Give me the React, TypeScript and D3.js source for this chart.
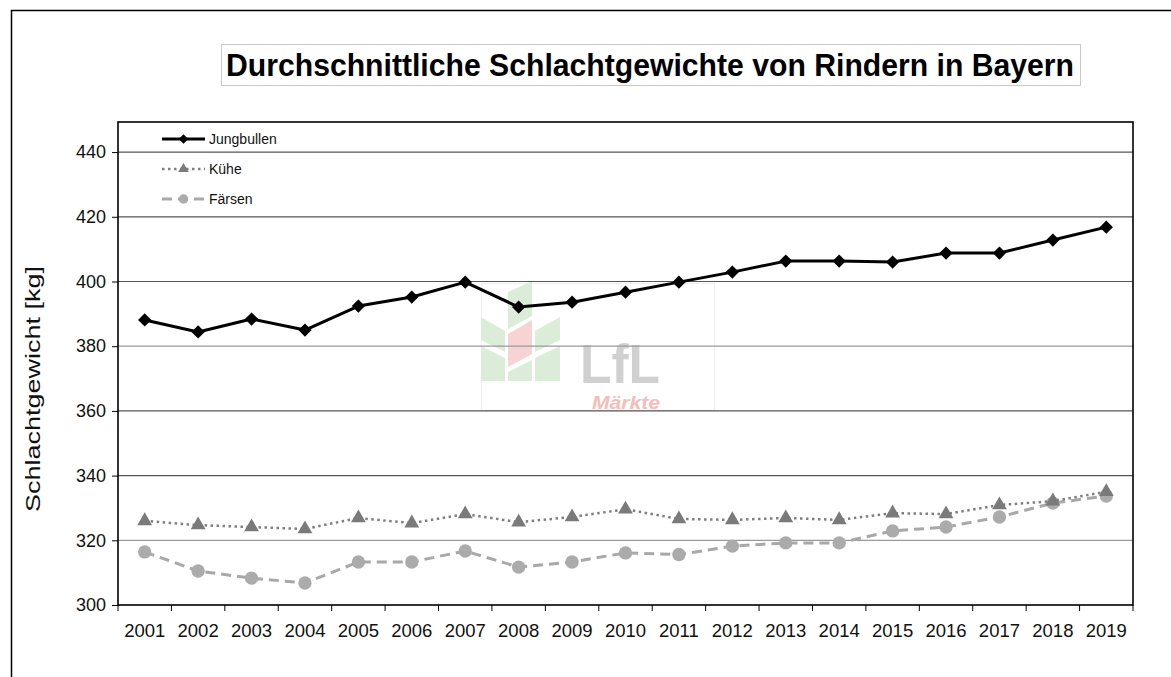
import React, { useEffect, useRef } from 'react';
import * as d3 from 'd3';

// Jahre (x-Achse)
const years = ["2001", "2002", "2003", "2004", "2005", "2006", "2007", "2008", "2009", "2010",
  "2011", "2012", "2013", "2014", "2015", "2016", "2017", "2018", "2019"];

// Schlachtgewichte in kg
const jungbullen = [388.1, 384.4, 388.4, 385.0, 392.4, 395.2, 399.8, 392.1, 393.6, 396.7,
  399.8, 402.9, 406.3, 406.3, 406.0, 408.8, 408.8, 412.8, 416.8];
const kuehe = [326.0, 324.7, 324.1, 323.5, 326.9, 325.3, 328.1, 325.6, 327.2, 329.6,
  326.6, 326.3, 326.9, 326.3, 328.4, 328.1, 330.9, 332.1, 335.0];
const faersen = [316.4, 310.5, 308.3, 306.8, 313.3, 313.3, 316.7, 311.7, 313.3, 316.1,
  315.6, 318.2, 319.2, 319.2, 322.9, 324.1, 327.2, 331.5, 333.7];

const yTicks = [300, 320, 340, 360, 380, 400, 420, 440];
const seriesNames = ["Jungbullen", "Kühe", "Färsen"];

export default function App() {
  const ref = useRef<SVGSVGElement | null>(null);

  useEffect(() => {
    document.body.style.margin = "0";
    const svg = d3.select(ref.current);
    svg.selectAll("*").remove();

    const W = 1171, H = 677;
    const margin = { top: 122, right: W - 1133, bottom: H - 605, left: 118 };
    const font = "Liberation Sans, Arial, sans-serif";

    // outer frame
    svg.append("rect")
      .attr("x", 11.5).attr("y", 10.5)
      .attr("width", W + 20).attr("height", H + 20)
      .attr("fill", "#fff").attr("stroke", "#000").attr("stroke-width", 1.5);

    // title box
    svg.append("rect")
      .attr("x", 221.5).attr("y", 44.5).attr("width", 859).attr("height", 41)
      .attr("fill", "#fff").attr("stroke", "#c8c8c8");
    svg.append("text")
      .attr("x", 226).attr("y", 76)
      .attr("font-family", font).attr("font-weight", "bold").attr("font-size", 31)
      .attr("textLength", 848).attr("lengthAdjust", "spacingAndGlyphs")
      .text("Durchschnittliche Schlachtgewichte von Rindern in Bayern");

    const x = d3.scaleBand()
      .domain(years)
      .range([margin.left, W - margin.right]);
    const y = d3.scaleLinear()
      .domain([300, 449.3])
      .range([H - margin.bottom, margin.top]);
    const cx = (d: string) => (x(d) as number) + x.bandwidth() / 2;

    // watermark
    const wm = svg.append("g").attr("opacity", 0.9);
    wm.append("rect").attr("x", 481.5).attr("y", 283.5).attr("width", 233).attr("height", 127)
      .attr("fill", "none").attr("stroke", "#eeeeee");
    const green = "#d8ecd4", pink = "#f7cfcf";
    const leaves: [number, number][][] = [
      [[508, 292], [532, 281], [532, 316], [508, 329]],
      [[481, 317], [505, 331], [505, 352], [481, 340]],
      [[481, 346], [505, 358], [505, 381], [481, 381]],
      [[535, 331], [560, 317], [560, 340], [535, 352]],
      [[535, 358], [560, 346], [560, 381], [535, 381]],
      [[508, 372], [532, 360], [532, 381], [508, 381]]
    ];
    leaves.forEach(p => wm.append("polygon").attr("points", p.join(" ")).attr("fill", green));
    wm.append("polygon").attr("points", [[508, 334], [532, 320], [532, 354], [508, 367]].join(" ")).attr("fill", pink);
    wm.append("text").attr("x", 580).attr("y", 383)
      .attr("font-family", font).attr("font-weight", "bold").attr("font-size", 56)
      .attr("textLength", 80).attr("lengthAdjust", "spacingAndGlyphs")
      .attr("fill", "#cccccc").text("LfL");
    wm.append("text").attr("x", 592).attr("y", 409)
      .attr("font-family", font).attr("font-weight", "bold").attr("font-style", "italic")
      .attr("font-size", 18).attr("textLength", 68).attr("lengthAdjust", "spacingAndGlyphs")
      .attr("fill", "#f5b5b5").text("Märkte");

    // gridlines
    svg.append("g")
      .selectAll("line")
      .data(yTicks.filter(t => t > 300))
      .enter()
      .append("line")
      .attr("x1", margin.left).attr("x2", W - margin.right)
      .attr("y1", d => y(d)).attr("y2", d => y(d))
      .attr("stroke", d => (d === 380 || d === 320) ? "#9a9a9a" : "#555")
      .attr("stroke-width", 1.2);

    // plot frame
    svg.append("rect")
      .attr("x", margin.left).attr("y", margin.top)
      .attr("width", W - margin.right - margin.left)
      .attr("height", H - margin.bottom - margin.top)
      .attr("fill", "none").attr("stroke", "#000").attr("stroke-width", 1.6);

    // y axis
    const yAxis = svg.append("g")
      .attr("transform", `translate(${margin.left},0)`)
      .call(d3.axisLeft(y).tickValues(yTicks).tickSize(6).tickPadding(6).tickFormat(d3.format("d")));
    yAxis.select(".domain").remove();
    yAxis.selectAll("line").attr("stroke", "#000");
    yAxis.selectAll("text").attr("font-family", font).attr("font-size", 18).attr("fill", "#111");

    // x axis ticks at band boundaries
    const bounds = years.map(d => x(d) as number).concat([W - margin.right]);
    svg.append("g")
      .selectAll("line")
      .data(bounds)
      .enter()
      .append("line")
      .attr("x1", d => d).attr("x2", d => d)
      .attr("y1", H - margin.bottom).attr("y2", H - margin.bottom + 6)
      .attr("stroke", "#000");
    svg.append("g")
      .selectAll("text")
      .data(years)
      .enter()
      .append("text")
      .attr("x", d => cx(d)).attr("y", 637)
      .attr("text-anchor", "middle")
      .attr("font-family", font).attr("font-size", 18.5).attr("fill", "#111")
      .text(d => d);

    // y axis label
    svg.append("text")
      .attr("transform", "translate(40,389) rotate(-90)")
      .attr("text-anchor", "middle")
      .attr("font-family", font).attr("font-size", 20)
      .attr("textLength", 246).attr("lengthAdjust", "spacingAndGlyphs")
      .attr("fill", "#111")
      .text("Schlachtgewicht [kg]");

    const line = d3.line<number>()
      .x((d, i) => cx(years[i]))
      .y(d => y(d));

    const styles = [
      { data: jungbullen, stroke: "#000", width: 3, dash: null as string | null, fill: "#000", shape: d3.symbolSquare, size: 88, rot: 45 },
      { data: kuehe, stroke: "#7f7f7f", width: 2.5, dash: "2.5,3.5", fill: "#7a7a7a", shape: d3.symbolTriangle, size: 95, rot: 0 },
      { data: faersen, stroke: "#a8a8a8", width: 3, dash: "10,6", fill: "#ababab", shape: d3.symbolCircle, size: 140, rot: 0 }
    ];

    // series in reverse order so Jungbullen on top
    [...styles].reverse().forEach(s => {
      const g = svg.append("g");
      g.append("path")
        .datum(s.data)
        .attr("d", line)
        .attr("fill", "none")
        .attr("stroke", s.stroke)
        .attr("stroke-width", s.width)
        .attr("stroke-dasharray", s.dash)
        .attr("stroke-linejoin", "round");
      g.selectAll("path.m")
        .data(s.data)
        .enter()
        .append("path")
        .attr("class", "m")
        .attr("transform", (d, i) => `translate(${cx(years[i])},${y(d)}) rotate(${s.rot})`)
        .attr("d", d3.symbol().type(s.shape).size(s.size)())
        .attr("fill", s.fill);
    });

    // legend
    const legendY = [139, 169, 199];
    styles.forEach((s, i) => {
      const g = svg.append("g").attr("transform", `translate(0,${legendY[i]})`);
      g.append("line")
        .attr("x1", 162).attr("x2", 205)
        .attr("stroke", s.stroke).attr("stroke-width", s.width)
        .attr("stroke-dasharray", s.dash);
      g.append("path")
        .attr("transform", `translate(183.5,0) rotate(${s.rot})`)
        .attr("d", d3.symbol().type(s.shape).size(s.size * 0.5)())
        .attr("fill", s.fill);
      g.append("text")
        .attr("x", 209).attr("dy", "0.35em")
        .attr("font-family", font).attr("font-size", 14).attr("fill", "#111")
        .text(seriesNames[i]);
    });
  }, []);

  return <svg ref={ref} width={1171} height={677} style={{ display: "block" }}></svg>;
}
